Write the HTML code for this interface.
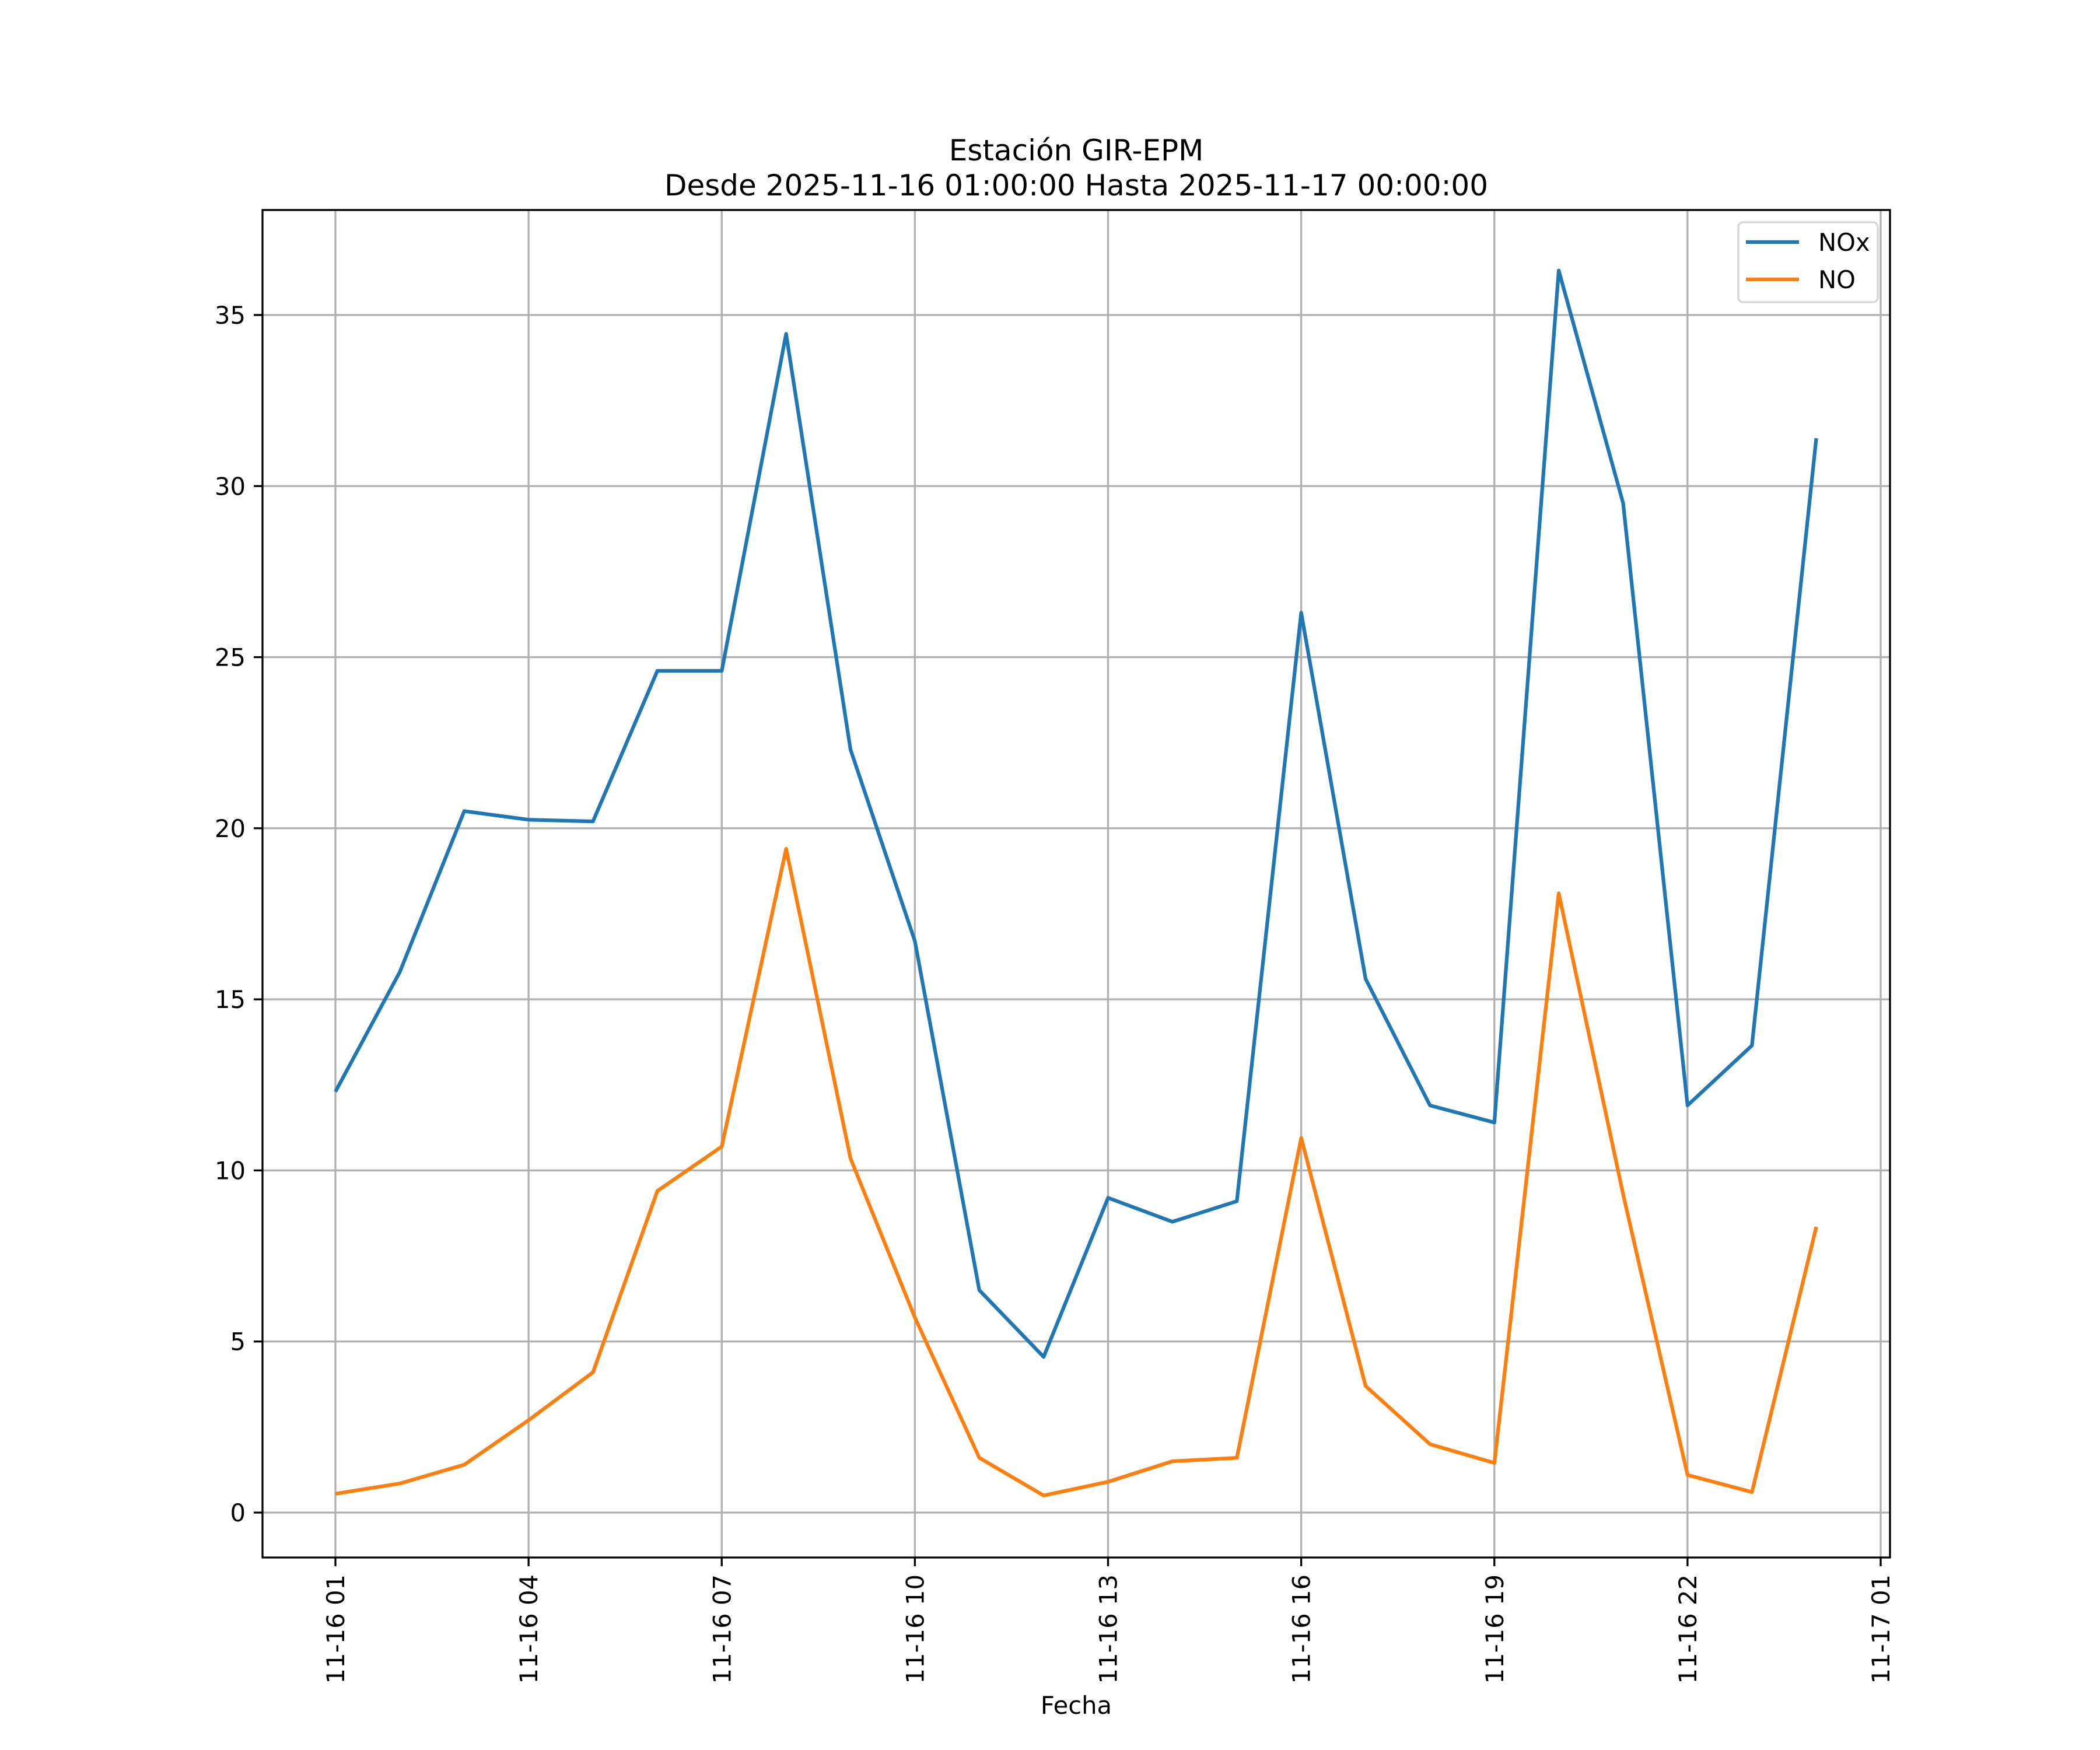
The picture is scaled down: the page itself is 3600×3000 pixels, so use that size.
<!DOCTYPE html>
<html><head><meta charset="utf-8"><style>
html,body{margin:0;padding:0;background:#fff}
svg{display:block;font-family:"DejaVu Sans","Liberation Sans",sans-serif}
</style></head><body>
<svg id="chart" xmlns="http://www.w3.org/2000/svg" width="3600" height="3000" viewBox="0 0 3600 3000">
<rect width="3600" height="3000" fill="#fff"/>
<text x="1845" y="275" font-size="50" text-anchor="middle">Estación GIR-EPM</text>
<text x="1845" y="335" font-size="50" text-anchor="middle">Desde 2025-11-16 01:00:00 Hasta 2025-11-17 00:00:00</text>
<g id="grid"></g>
<g id="series"></g>
<rect x="450" y="360" width="2790" height="2310" fill="none" stroke="#000" stroke-width="3.3"/>
<g id="axes"></g>
<text x="1845" y="2938" font-size="41.7" text-anchor="middle">Fecha</text>
<g>
<rect x="2980" y="381" width="239" height="137" rx="8" fill="#fff" fill-opacity="0.8" stroke="#d6d6d6" stroke-width="3.3"/>
<line x1="2993" y1="415" x2="3084" y2="415" stroke="#1f77b4" stroke-width="6.25"/>
<text x="3117" y="430" font-size="41.7">NOx</text>
<line x1="2993" y1="479" x2="3084" y2="479" stroke="#ff7f0e" stroke-width="6.25"/>
<text x="3117" y="494" font-size="41.7">NO</text>
</g>
</svg>
<script>
const hours = [1,2,3,4,5,6,7,8,9,10,11,12,13,14,15,16,17,18,19,20,21,22,23,24];
const noxValues = [12.3,15.8,20.5,20.25,20.2,24.6,24.6,34.45,22.3,16.7,6.5,4.55,9.2,8.5,9.1,26.3,15.6,11.9,11.4,36.3,29.5,11.9,13.65,31.4];
const noValues = [0.55,0.85,1.4,2.7,4.1,9.4,10.7,19.4,10.35,5.7,1.6,0.5,0.9,1.5,1.6,10.95,3.7,2.0,1.45,18.1,9.3,1.1,0.6,8.35];
const yTicks = [0,5,10,15,20,25,30,35];
const xTickHours = [1,4,7,10,13,16,19,22,25];
const xTickLabels = ["11-16 01","11-16 04","11-16 07","11-16 10","11-16 13","11-16 16","11-16 19","11-16 22","11-17 01"];

const NS="http://www.w3.org/2000/svg";
const xS = h => 575 + (h-1)*(3224-575)/24;
const yS = v => 2593 - v*(2593-540)/35;
function mk(tag, attrs, parent){const e=document.createElementNS(NS,tag);for(const k in attrs)e.setAttribute(k,attrs[k]);parent.appendChild(e);return e;}
const grid=document.getElementById('grid'), axes=document.getElementById('axes'), series=document.getElementById('series');
yTicks.forEach(v=>{
  const y=yS(v);
  const g=mk('line',{x1:450,x2:3240,y1:y,y2:y,stroke:'#b0b0b0','stroke-width':3.3},grid);
  
  
  const t=mk('line',{x1:435,x2:450,y1:y,y2:y,stroke:'#000','stroke-width':3.3},axes);
  
  
  const l=mk('text',{x:421,y:y+15,'font-size':41.7,'text-anchor':'end'},axes);
  l.textContent=v;
  
  
});
xTickHours.forEach((h,i)=>{
  const x=xS(h);
  const g=mk('line',{x1:x,x2:x,y1:360,y2:2670,stroke:'#b0b0b0','stroke-width':3.3},grid);
  
  
  const t=mk('line',{x1:x,x2:x,y1:2670,y2:2685,stroke:'#000','stroke-width':3.3},axes);
  
  
  const l=mk('text',{x:0,y:0,'font-size':41.7,'text-anchor':'end',transform:`translate(${x+15},2699) rotate(-90)`},axes);
  l.textContent=xTickLabels[i];
  
  
});
function line(vals,color,name){
  const pts=hours.map((h,i)=>xS(h).toFixed(1)+','+yS(vals[i]).toFixed(1)).join(' ');
  const p=mk('polyline',{points:pts,fill:'none',stroke:color,'stroke-width':6.25,'stroke-linejoin':'round'},series);
  
  
}
line(noxValues,'#1f77b4','nox-line');
line(noValues,'#ff7f0e','no-line');
</script>
</body></html>
